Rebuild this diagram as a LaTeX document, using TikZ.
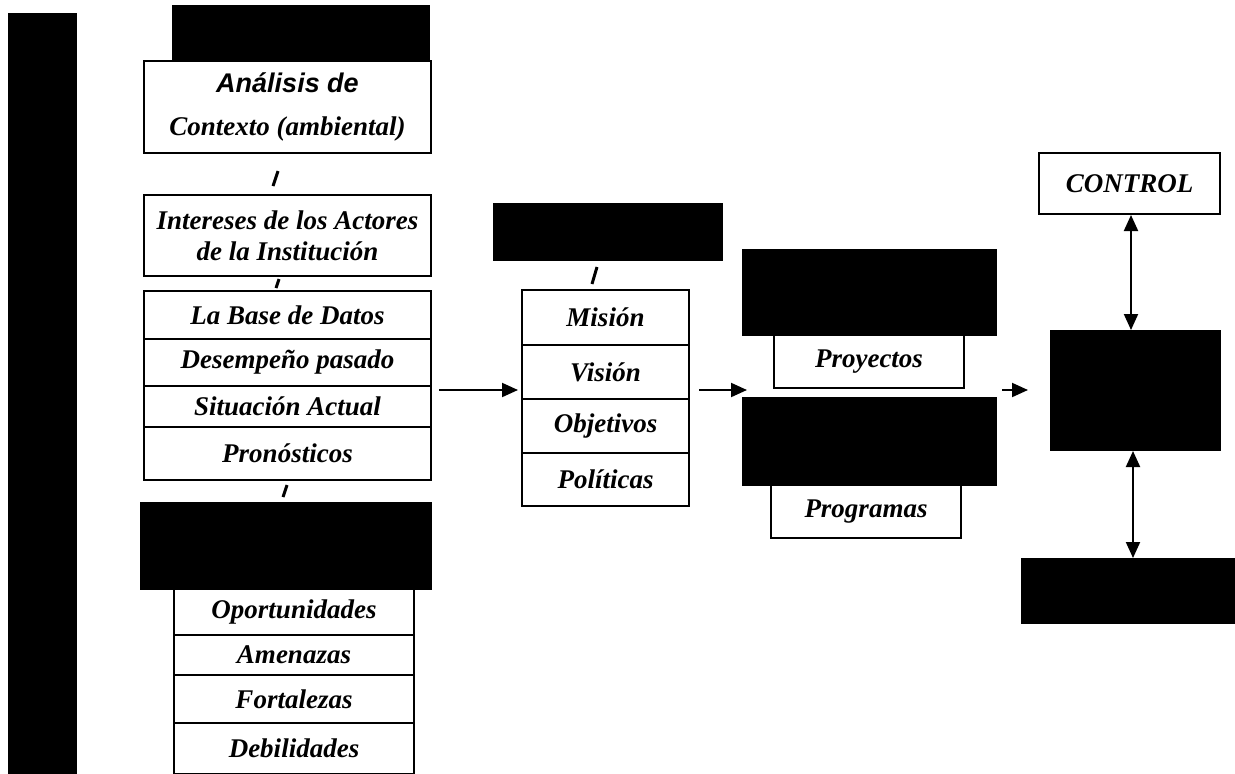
\documentclass[tikz,border=0pt]{standalone}
\usepackage{fontspec}
\setmainfont{Liberation Serif}
\setsansfont{Liberation Sans}
\usetikzlibrary{arrows.meta}
\begin{document}
\begin{tikzpicture}[x=1pt,y=-1pt,
  wbox/.style={draw=black, fill=white, line width=2pt, inner sep=0pt, anchor=north west,
    align=center, font=\fontsize{27}{31}\selectfont\bfseries\itshape},
  bbox/.style={draw=black, fill=black, line width=2pt, inner sep=0pt, anchor=north west},
  tick/.style={line width=3pt, line cap=butt},
  arr/.style={line width=2pt, -{Triangle[length=16pt,width=14pt]}},
  darr/.style={line width=2pt, {Triangle[length=16pt,width=14pt]}-{Triangle[length=16pt,width=14pt]}}]
\useasboundingbox[fill=white] (0,0) rectangle (1235,774);
% left strip
\node[bbox, minimum width=67pt, minimum height=761pt] (strip) at (8,13) {};
% left column
\node[bbox, minimum width=256pt, minimum height=55pt] (topblk) at (172,5) {};
\node[wbox, minimum width=287pt, minimum height=92pt] (anal) at (143,60)
  {{\sffamily Análisis de}\\[12pt]Contexto (ambiental)};
\node[wbox, minimum width=287pt, minimum height=81pt] (inter) at (143,194)
  {Intereses de los Actores\\de la Institución};
\node[wbox, minimum width=287pt, minimum height=48pt] (base) at (143,290) {La Base de Datos};
\node[wbox, minimum width=287pt, minimum height=47pt] (desem) at (143,338) {Desempeño pasado};
\node[wbox, minimum width=287pt, minimum height=41pt] (sit) at (143,385) {Situación Actual};
\node[wbox, minimum width=287pt, minimum height=53pt] (pron) at (143,426) {Pronósticos};
\node[bbox, minimum width=290pt, minimum height=86pt] (blkfoda) at (140,502) {};
\node[wbox, minimum width=240pt, minimum height=46pt] (opor) at (173,588) {Oportunidades};
\node[wbox, minimum width=240pt, minimum height=40pt] (amen) at (173,634) {Amenazas};
\node[wbox, minimum width=240pt, minimum height=48pt] (fort) at (173,674) {Fortalezas};
\node[wbox, minimum width=240pt, minimum height=51pt] (debi) at (173,722) {Debilidades};
% short strokes between boxes
\draw[tick] (273,186) -- (278,171);
\draw[tick] (276,288) -- (279,279);
\draw[tick] (283,497) -- (287,485);
% middle column
\node[bbox, minimum width=228pt, minimum height=56pt] (blkfil) at (493,203) {};
\node[wbox, minimum width=167pt, minimum height=55pt] (mis) at (521,289) {Misión};
\node[wbox, minimum width=167pt, minimum height=54pt] (vis) at (521,344) {Visión};
\node[wbox, minimum width=167pt, minimum height=54pt] (obj) at (521,398) {Objetivos};
\node[wbox, minimum width=167pt, minimum height=53pt] (pol) at (521,452) {Políticas};
\draw[tick] (592,284) -- (597,267);
% right group
\node[bbox, minimum width=253pt, minimum height=85pt] (blkp1) at (742,249) {};
\node[wbox, minimum width=190pt, minimum height=53pt] (proy) at (773,334) {Proyectos};
\node[bbox, minimum width=253pt, minimum height=87pt] (blkp2) at (742,397) {};
\node[wbox, minimum width=190pt, minimum height=53pt] (prog) at (770,484) {Programas};
% far right
\node[wbox, minimum width=181pt, minimum height=61pt] (control) at (1038,152) {CONTROL};
\node[bbox, minimum width=169pt, minimum height=119pt] (blkmain) at (1050,330) {};
\node[bbox, minimum width=214pt, minimum height=64pt] (bot) at (1021,558) {};
% arrows
\coordinate (row) at (0,390);
\draw[arr] ([xshift=7pt]desem.east |- row) -- ([xshift=-3pt]obj.west |- row);
\draw[arr] ([xshift=9pt]obj.east |- row) -- ([xshift=-26pt]proy.west |- row);
\draw[arr] ([xshift=5pt]blkp2.east |- row) -- ([xshift=-22pt]blkmain.west |- row);
\draw[darr] ([xshift=1.5pt]control.south) -- ([xshift=1.5pt]control.south |- blkmain.north);
\draw[darr] ([xshift=-2.5pt]blkmain.south) -- ([xshift=-2.5pt]blkmain.south |- bot.north);
\end{tikzpicture}
\end{document}
